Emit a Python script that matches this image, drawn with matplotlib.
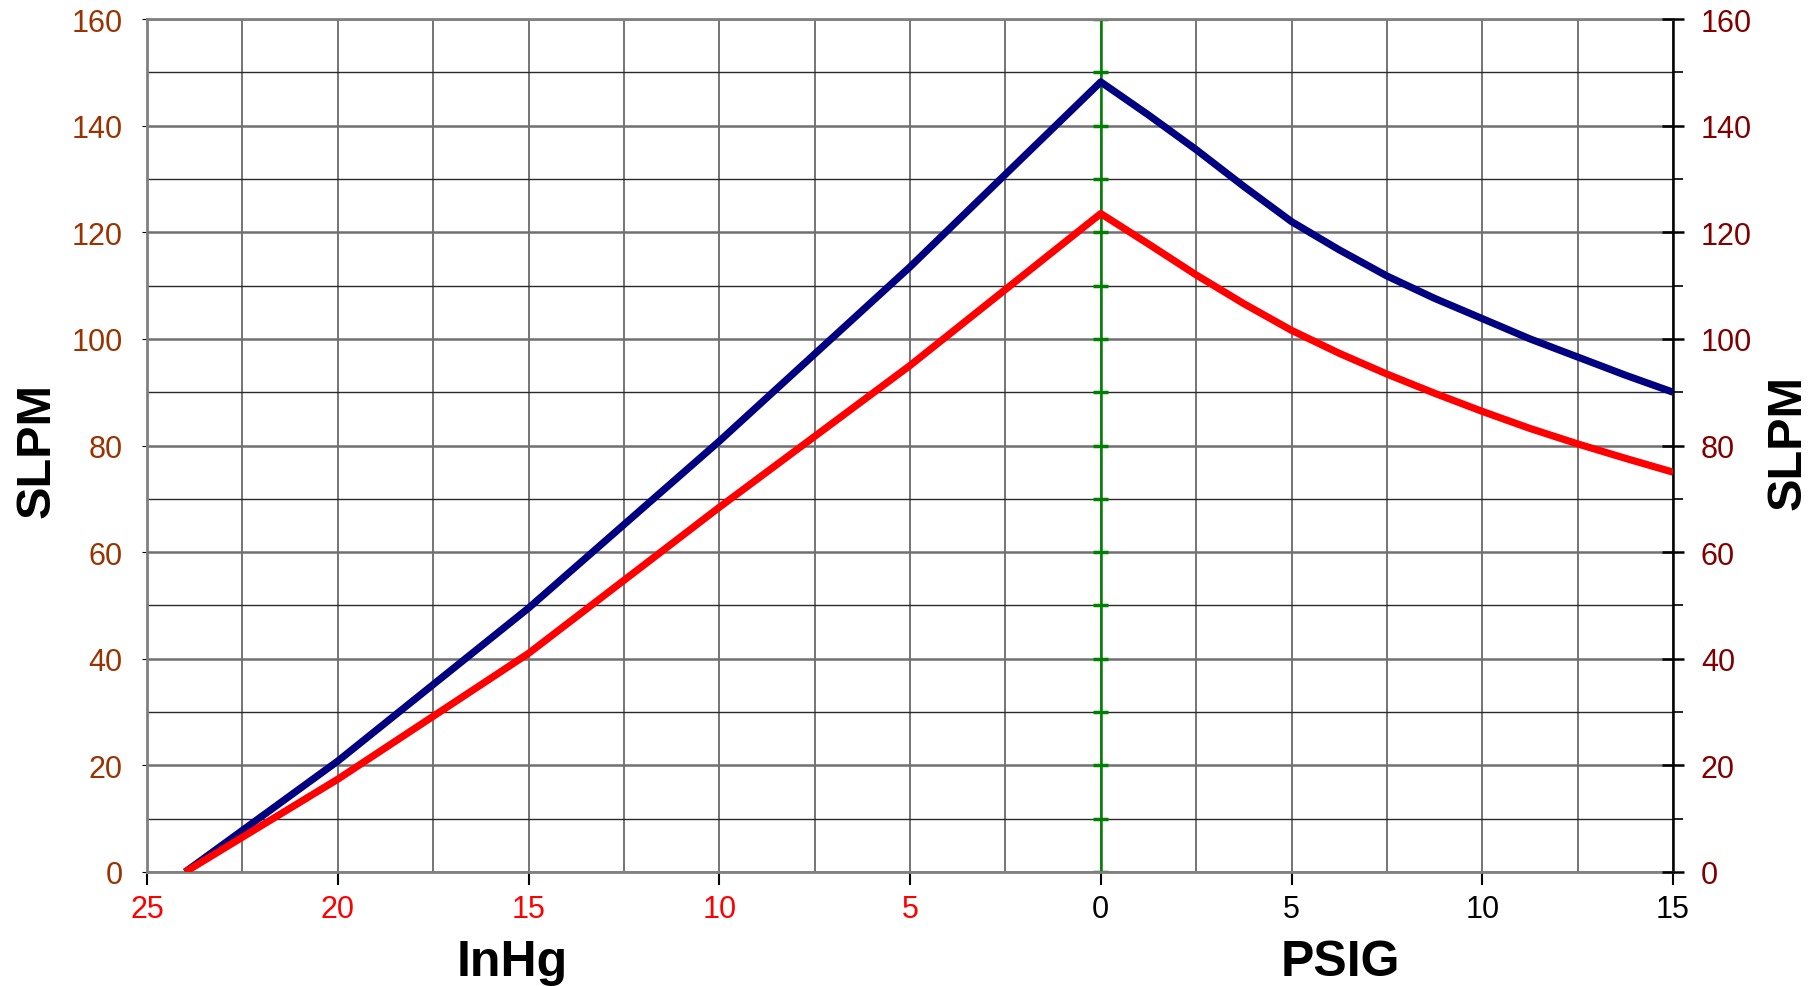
import matplotlib.pyplot as plt
import numpy as np

# === DATA ===
vac_inhg = [24, 20, 15, 10, 5, 0]            # vacuum side, InHg
blue_vac = [0, 20.8, 49.5, 80.8, 113.5, 148.2]
red_vac = [0, 17.4, 41.0, 68.4, 95.0, 123.5]

psig = [0, 1.25, 2.5, 3.75, 5, 6.25, 7.5, 8.75, 10, 11.25, 12.5, 13.75, 15]   # pressure side, PSIG
blue_psig = [148.2, 142.0, 135.5, 128.6, 122.0, 116.7, 111.8, 107.6, 103.8, 100.0, 96.6, 93.2, 90.0]
red_psig = [123.5, 117.8, 112.0, 106.6, 101.6, 97.3, 93.4, 89.8, 86.4, 83.2, 80.3, 77.6, 75.0]

x_ticks = [-25, -20, -15, -10, -5, 0, 5, 10, 15]
x_tick_labels = ['25', '20', '15', '10', '5', '0', '5', '10', '15']
y_ticks = [0, 20, 40, 60, 80, 100, 120, 140, 160]

# === PLOT STYLE ===
plt.rcParams['font.family'] = ['Liberation Sans', 'DejaVu Sans']
W, H = 1814, 987
fig = plt.figure(figsize=(W / 100, H / 100), dpi=100)
L, R, T, B = 147, 1673, 20, 873
ax = fig.add_axes([L / W, 1 - B / H, (R - L) / W, (B - T) / H])

x_blue = [-v for v in vac_inhg] + psig[1:]
y_blue = blue_vac + blue_psig[1:]
x_red = [-v for v in vac_inhg] + psig[1:]
y_red = red_vac + red_psig[1:]

ax.set_xlim(-25, 15)
ax.set_ylim(0, 160)

# grid
for gx in np.arange(-25, 15.1, 2.5):
    ax.axvline(gx, color='#505050', lw=1.1, zorder=1)
for gy in np.arange(0, 161, 10):
    ax.axhline(gy, color='#2a2a2a' if gy % 20 else '#707070',
               lw=1.0 if gy % 20 else 1.8, zorder=1)

# green zero line with little ticks
ax.axvline(0, color='#008000', lw=1.8, zorder=2)
for gy in np.arange(0, 161, 10):
    ax.plot([-0.2, 0.2], [gy, gy], color='#008000', lw=2.5, zorder=2,
            solid_capstyle='butt')

ax.plot(x_red, y_red, color='#ff0000', lw=5.2, zorder=4, solid_capstyle='butt')
ax.plot(x_blue, y_blue, color='#000080', lw=5.2, zorder=3, solid_capstyle='butt')

# spines
for s in ['top', 'left', 'bottom']:
    ax.spines[s].set_color('#808080')
    ax.spines[s].set_linewidth(2)
ax.spines['right'].set_color('black')
ax.spines['right'].set_linewidth(1.8)

ax.set_xticks(x_ticks)
ax.set_xticklabels(x_tick_labels, fontsize=22)
for lbl, v in zip(ax.get_xticklabels(), x_ticks):
    lbl.set_color('#ff0000' if v < 0 else 'black')
ax.tick_params(axis='x', direction='out', length=9, width=1.5, color='black', pad=7)

ax.set_yticks(y_ticks)
ax.set_yticklabels([str(v) for v in y_ticks], fontsize=22, color='#993300')
ax.tick_params(axis='y', left=False, pad=14)

ax2 = ax.twinx()
ax2.set_ylim(0, 160)
ax2.set_yticks(y_ticks)
ax2.set_yticklabels([str(v) for v in y_ticks], fontsize=22, color='#800000')
ax2.set_yticks(np.arange(10, 160, 20), minor=True)
ax2.tick_params(axis='y', which='major', direction='inout', length=16, width=1.8, pad=12)
ax2.tick_params(axis='y', which='minor', direction='out', length=7, width=1.2)
for s in ['top', 'left', 'bottom', 'right']:
    ax2.spines[s].set_visible(False)

# axis titles
fig.text(37 / W, 1 - 450 / H, 'SLPM', rotation=90, fontsize=35, fontweight='bold',
         ha='center', va='center')
fig.text(1788 / W, 1 - 442 / H, 'SLPM', rotation=90, fontsize=35, fontweight='bold',
         ha='center', va='center')
fig.text(512 / W, 1 - 963 / H, 'InHg', fontsize=36, fontweight='bold',
         ha='center', va='center')
fig.text(1340 / W, 1 - 963 / H, 'PSIG', fontsize=36, fontweight='bold',
         ha='center', va='center')

fig.savefig('out.png', dpi=100)
